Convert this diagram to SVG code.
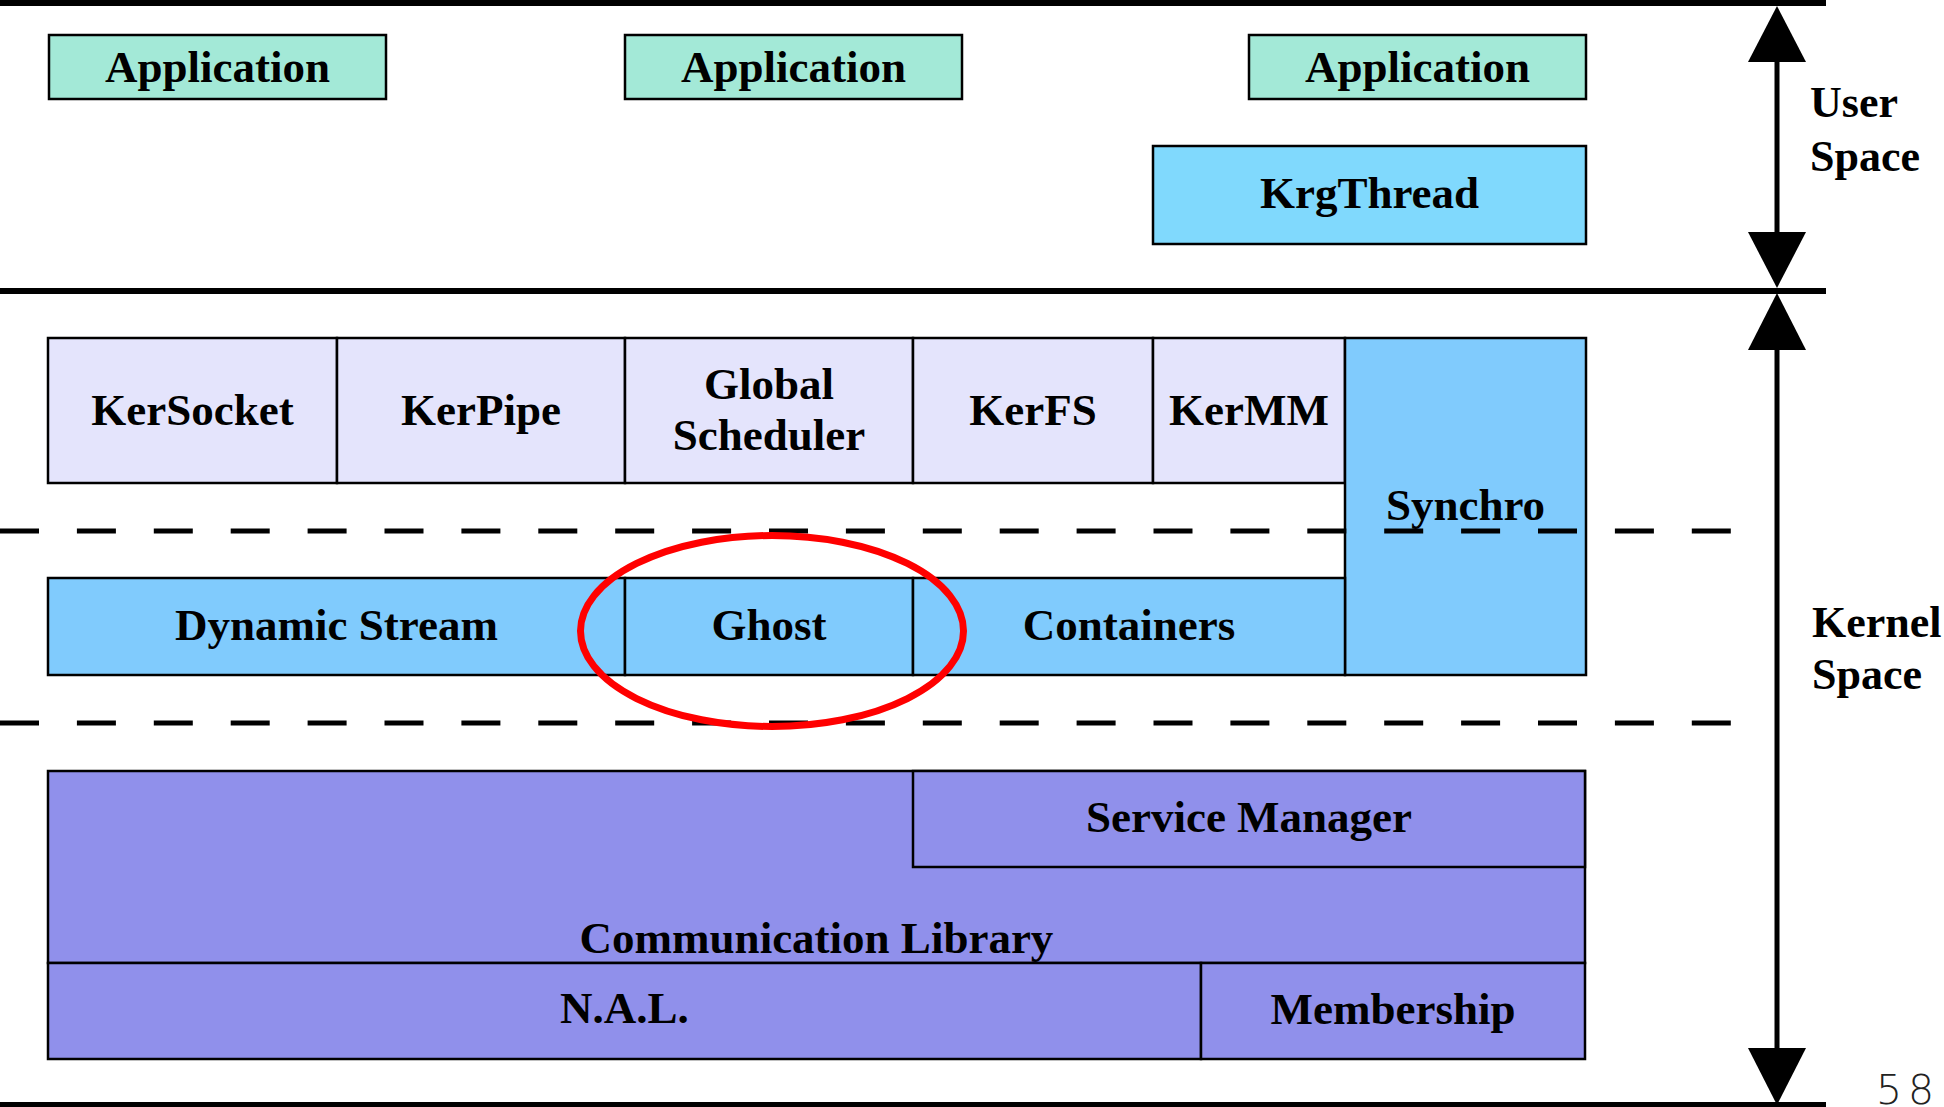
<svg xmlns="http://www.w3.org/2000/svg" width="1944" height="1107" viewBox="0 0 1944 1107">
  <style>
    .box { stroke: #000; stroke-width: 2.5; }
    .app { fill: #a3e9d7; }
    .thread { fill: #80d9fd; }
    .svc { fill: #e4e4fc; }
    .core { fill: #80cbfd; }
    .comm { fill: #9090eb; }
    .lbl { font-family: "Liberation Serif", "Times New Roman", serif; font-weight: bold; font-size: 45px; fill: #000; text-anchor: middle; }
    .side { font-family: "Liberation Serif", "Times New Roman", serif; font-weight: bold; font-size: 44px; fill: #000; }
    .rule { stroke: #000; stroke-width: 6; fill: none; }
    .dash { stroke: #000; stroke-width: 5; stroke-dasharray: 39 37.9; fill: none; }
    .shaft { stroke: #000; stroke-width: 5; fill: none; }
    .head { fill: #000; }
  </style>

  <!-- layer separators -->
  <g id="separators">
    <line class="rule" x1="0" y1="3" x2="1826" y2="3"/>
    <line class="rule" x1="0" y1="291" x2="1826" y2="291"/>
    <line class="rule" x1="0" y1="1105" x2="1826" y2="1105" stroke-width="5"/>
  </g>

  <!-- user space -->
  <g id="app1"><rect class="box app" x="49" y="35" width="337" height="64"/><text class="lbl" x="217.5" y="82">Application</text></g>
  <g id="app2"><rect class="box app" x="625" y="35" width="337" height="64"/><text class="lbl" x="793.5" y="82">Application</text></g>
  <g id="app3"><rect class="box app" x="1249" y="35" width="337" height="64"/><text class="lbl" x="1417.5" y="82">Application</text></g>
  <g id="krgthread"><rect class="box thread" x="1153" y="146" width="433" height="98"/><text class="lbl" x="1369.5" y="208">KrgThread</text></g>

  <!-- kernel services -->
  <g id="kersocket"><rect class="box svc" x="48" y="338" width="289" height="145"/><text class="lbl" x="192.5" y="425">KerSocket</text></g>
  <g id="kerpipe"><rect class="box svc" x="337" y="338" width="288" height="145"/><text class="lbl" x="481" y="425">KerPipe</text></g>
  <g id="global-scheduler"><rect class="box svc" x="625" y="338" width="288" height="145"/><text class="lbl" x="769" y="399">Global</text><text class="lbl" x="769" y="450">Scheduler</text></g>
  <g id="kerfs"><rect class="box svc" x="913" y="338" width="240" height="145"/><text class="lbl" x="1033" y="425">KerFS</text></g>
  <g id="kermm"><rect class="box svc" x="1153" y="338" width="192" height="145"/><text class="lbl" x="1249" y="425">KerMM</text></g>
  <g id="synchro"><rect class="box core" x="1345" y="338" width="241" height="337"/><text class="lbl" x="1465.5" y="520">Synchro</text></g>

  <!-- kernel mechanisms -->
  <g id="dynamic-stream"><rect class="box core" x="48" y="578" width="577" height="97"/><text class="lbl" x="336.5" y="640">Dynamic Stream</text></g>
  <g id="ghost"><rect class="box core" x="625" y="578" width="288" height="97"/><text class="lbl" x="769" y="640">Ghost</text></g>
  <g id="containers"><rect class="box core" x="913" y="578" width="432" height="97"/><text class="lbl" x="1129" y="640">Containers</text></g>

  <!-- communication layer -->
  <g id="communication-library"><rect class="box comm" x="48" y="771" width="1537" height="192"/><text class="lbl" x="816.5" y="953">Communication Library</text></g>
  <g id="service-manager"><rect class="box comm" x="913" y="771" width="672" height="96"/><text class="lbl" x="1249" y="832">Service Manager</text></g>
  <g id="nal"><rect class="box comm" x="48" y="963" width="1153" height="96"/><text class="lbl" x="624.5" y="1023">N.A.L.</text></g>
  <g id="membership"><rect class="box comm" x="1201" y="963" width="384" height="96"/><text class="lbl" x="1393" y="1024">Membership</text></g>

  <!-- dashed level boundaries -->
  <g id="boundaries">
    <line class="dash" x1="0" y1="531" x2="1731" y2="531"/>
    <line class="dash" x1="0" y1="723" x2="1731" y2="723"/>
  </g>

  <!-- extent arrows -->
  <g id="connectors">
    <line class="shaft" x1="1777" y1="55" x2="1777" y2="240"/>
    <polygon class="head" points="1777,6 1806,62 1748,62"/>
    <polygon class="head" points="1777,288 1806,232 1748,232"/>
    <line class="shaft" x1="1777" y1="345" x2="1777" y2="1053"/>
    <polygon class="head" points="1777,293 1806,350 1748,350"/>
    <polygon class="head" points="1777,1105 1806,1048 1748,1048"/>
  </g>

  <g id="user-space-label">
    <text class="side" x="1810" y="117">User</text>
    <text class="side" x="1810" y="171">Space</text>
  </g>
  <g id="kernel-space-label">
    <text class="side" x="1812" y="637">Kernel</text>
    <text class="side" x="1812" y="689">Space</text>
  </g>

  <!-- highlight -->
  <ellipse id="highlight" cx="772" cy="631" rx="191.5" ry="95.5" fill="none" stroke="#ff0000" stroke-width="7"/>

  <!-- page number -->
  <text x="1876 1908" y="1104" font-family="DejaVu Sans, sans-serif" font-weight="300" font-size="41" fill="#222">58</text>
</svg>
